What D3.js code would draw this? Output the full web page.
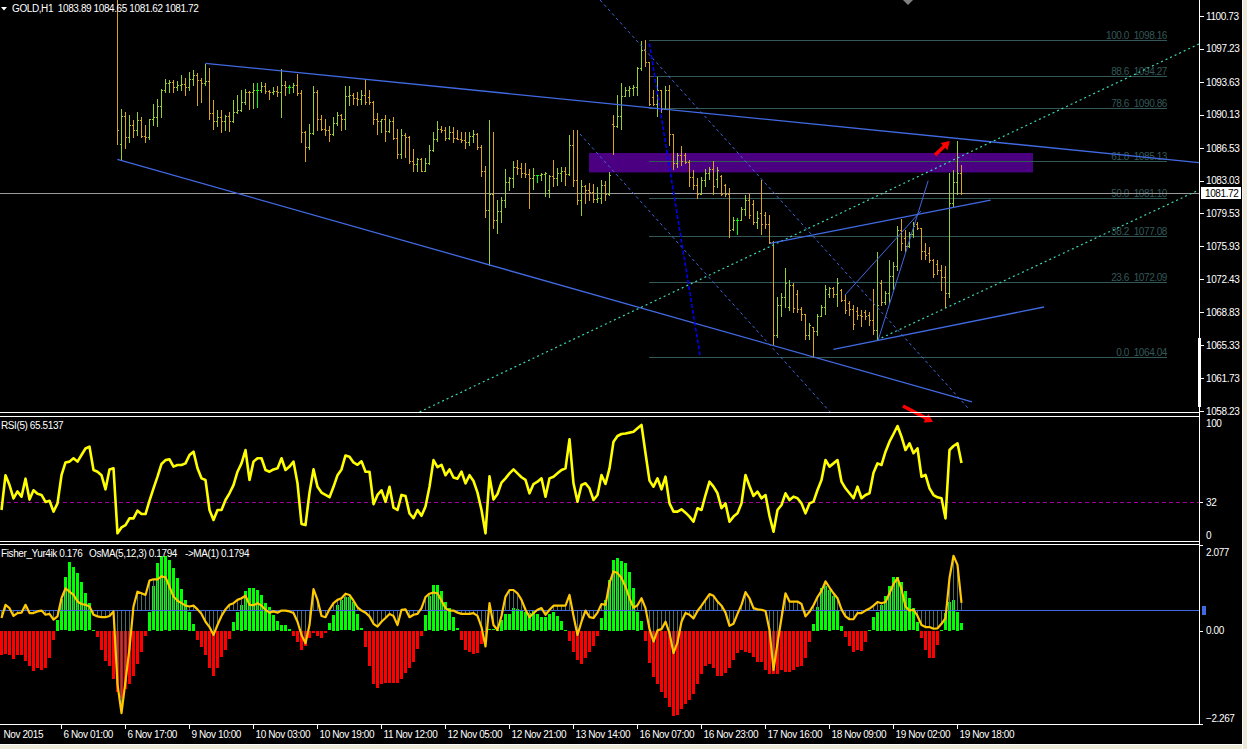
<!DOCTYPE html>
<html><head><meta charset="utf-8">
<script src="https://cdn.jsdelivr.net/npm/d3@7"></script>
<style>html,body{margin:0;padding:0;background:#000;overflow:hidden}svg{display:block}</style>
</head><body>
<svg id="c" width="1247" height="749"></svg>
<script>
// ---------------- DATA ----------------
const symbolName = "GOLD,H1";
const headerOHLC = ["1083.89", "1084.65", "1081.62", "1081.72"];
const lastPrice = 1081.72;
const barCount = 241;           // bars 0..240 on screen (H1)
const firstPriceBar = 29;       // earlier bars are above the visible price range
// [open, high, low, close] for bars 29..240
const priceBars = [
[1104.0,1107.0,1087.0,1088.5],[1087.0,1090.7,1085.3,1090.0],[1090.0,1090.4,1086.5,1087.7],[1087.7,1090.1,1087.2,1089.0],
[1089.0,1089.5,1087.7,1088.5],[1088.5,1090.4,1087.9,1089.5],[1089.5,1089.9,1087.7,1087.8],[1087.8,1089.0,1087.2,1087.7],
[1087.7,1089.7,1087.5,1089.6],[1089.6,1091.3,1089.0,1089.9],[1089.9,1091.8,1088.9,1091.0],[1091.0,1092.9,1089.9,1092.8],
[1092.8,1093.9,1092.5,1093.5],[1093.5,1093.8,1092.5,1093.6],[1093.6,1093.8,1092.6,1093.1],[1093.1,1093.7,1092.8,1093.3],
[1093.3,1094.4,1092.8,1093.4],[1093.4,1094.1,1092.2,1093.1],[1093.1,1094.7,1092.8,1093.9],[1093.9,1094.9,1093.3,1094.4],
[1094.4,1094.6,1091.2,1093.8],[1093.8,1094.1,1091.5,1093.5],[1093.5,1095.6,1093.3,1093.7],[1093.7,1095.1,1089.7,1090.3],
[1090.3,1091.7,1088.6,1089.4],[1089.4,1090.6,1088.9,1089.9],[1089.9,1090.6,1088.2,1089.4],[1089.4,1090.1,1088.5,1090.0],
[1090.0,1090.4,1088.4,1089.4],[1089.4,1091.7,1089.3,1090.4],[1090.4,1092.2,1090.3,1090.6],[1090.6,1092.8,1090.5,1091.5],
[1091.5,1092.9,1091.3,1092.6],[1092.6,1092.7,1090.7,1092.5],[1092.5,1093.5,1090.8,1092.8],[1092.8,1093.5,1090.9,1092.8],
[1092.8,1093.6,1092.5,1093.2],[1093.2,1093.5,1092.4,1092.7],[1092.7,1092.8,1091.8,1092.5],[1092.5,1093.1,1092.3,1092.7],
[1092.7,1093.2,1092.1,1092.6],[1092.6,1095.0,1089.9,1093.3],[1093.3,1093.7,1092.2,1093.1],[1093.1,1093.3,1092.4,1093.1],
[1093.1,1093.5,1092.5,1093.3],[1093.3,1094.5,1092.2,1092.4],[1092.4,1092.8,1087.2,1088.3],[1088.3,1088.4,1085.1,1086.6],
[1086.6,1089.1,1086.4,1088.1],[1088.1,1093.2,1088.0,1092.6],[1092.6,1092.8,1088.5,1089.6],[1089.6,1090.1,1088.5,1088.6],
[1088.6,1089.7,1087.9,1088.5],[1088.5,1088.9,1087.3,1088.0],[1088.0,1089.9,1087.9,1089.2],[1089.2,1090.4,1089.0,1090.1],
[1090.1,1090.2,1088.5,1089.6],[1089.6,1093.2,1088.6,1092.1],[1092.1,1093.2,1091.2,1092.2],[1092.2,1092.4,1091.3,1091.9],
[1091.9,1092.6,1091.2,1091.8],[1091.8,1092.8,1091.3,1092.2],[1092.2,1093.9,1091.3,1091.5],[1092.0,1092.8,1091.3,1091.5],
[1091.5,1091.6,1089.1,1089.6],[1089.6,1090.3,1088.0,1089.4],[1089.4,1089.7,1088.3,1089.6],[1089.6,1090.1,1087.3,1088.4],
[1088.4,1089.6,1088.3,1089.4],[1089.4,1089.9,1087.5,1087.6],[1087.6,1088.6,1085.5,1085.9],[1085.9,1088.6,1085.5,1087.9],
[1087.9,1088.1,1085.6,1087.7],[1087.7,1087.8,1084.9,1085.1],[1085.1,1086.4,1084.1,1084.8],[1084.8,1085.5,1084.0,1085.3],
[1085.3,1085.4,1084.0,1084.1],[1084.1,1085.4,1084.0,1084.9],[1084.9,1086.8,1084.8,1086.3],[1086.3,1088.3,1086.2,1087.5],
[1087.5,1089.4,1087.3,1088.6],[1088.6,1088.9,1088.2,1088.5],[1088.5,1088.8,1087.4,1087.6],[1087.6,1088.9,1087.5,1088.3],
[1088.3,1088.8,1087.2,1087.6],[1087.6,1088.5,1087.5,1087.5],[1087.5,1088.3,1087.2,1087.4],[1087.4,1088.2,1086.5,1087.2],
[1087.2,1088.3,1086.8,1087.8],[1087.8,1088.5,1087.2,1088.0],[1088.0,1088.1,1086.4,1086.6],[1086.6,1086.8,1083.5,1084.1],
[1084.1,1084.6,1079.1,1079.9],[1079.9,1089.5,1073.9,1081.6],[1081.6,1088.2,1077.9,1078.8],[1078.8,1080.9,1077.4,1079.8],
[1079.8,1081.3,1078.6,1080.9],[1080.9,1084.3,1080.2,1082.9],[1082.9,1083.4,1082.0,1083.3],[1083.3,1085.1,1082.3,1084.5],
[1084.5,1085.2,1083.7,1084.4],[1084.4,1084.9,1083.4,1083.8],[1083.8,1084.9,1083.4,1083.7],[1083.7,1084.3,1080.1,1083.3],
[1083.3,1084.4,1082.1,1083.6],[1083.6,1083.6,1082.9,1083.6],[1083.6,1083.8,1083.1,1083.7],[1083.7,1083.9,1081.4,1083.8],
[1082.0,1083.6,1081.3,1083.5],[1083.5,1085.2,1082.4,1083.3],[1083.3,1084.4,1082.5,1083.8],[1083.8,1084.5,1083.0,1084.0],
[1084.0,1084.5,1082.5,1083.7],[1083.7,1087.9,1083.6,1086.8],[1086.8,1088.5,1082.4,1083.1],[1083.1,1088.5,1080.5,1080.9],
[1080.9,1083.1,1079.3,1082.4],[1082.4,1082.5,1080.6,1082.0],[1082.0,1082.8,1080.9,1081.8],[1081.8,1082.7,1080.7,1081.0],
[1081.0,1082.3,1080.7,1081.1],[1081.1,1083.1,1080.6,1082.6],[1082.6,1083.0,1080.9,1081.6],[1081.6,1083.9,1081.5,1083.6],
[1089.1,1090.1,1085.9,1088.9],[1088.9,1092.2,1088.8,1090.0],[1090.0,1093.5,1088.6,1092.1],[1092.1,1093.1,1092.1,1092.8],
[1092.8,1093.2,1092.1,1093.0],[1093.0,1093.3,1092.2,1093.1],[1093.1,1095.2,1092.2,1095.1],[1095.1,1098.0,1094.9,1097.1],
[1097.1,1098.16,1095.3,1095.8],[1095.8,1095.8,1091.2,1091.3],[1092.0,1092.8,1091.2,1091.3],[1091.3,1094.2,1090.0,1092.8],
[1092.8,1092.8,1090.4,1090.7],[1090.7,1093.2,1090.7,1092.8],[1092.8,1093.3,1086.8,1088.0],[1088.0,1088.0,1084.3,1084.9],
[1084.9,1086.0,1084.5,1085.8],[1085.8,1086.7,1084.7,1085.1],[1085.8,1086.0,1084.9,1085.0],[1085.0,1085.2,1082.4,1083.4],
[1083.4,1084.2,1082.1,1082.6],[1082.6,1083.3,1081.2,1081.6],[1081.6,1083.4,1081.6,1083.1],[1083.1,1084.3,1082.4,1083.8],
[1083.8,1084.5,1083.2,1084.3],[1084.3,1085.1,1081.6,1082.4],[1083.2,1084.5,1082.3,1084.2],[1083.5,1083.6,1081.5,1081.6],
[1082.6,1082.7,1081.4,1081.6],[1081.6,1082.2,1077.0,1077.7],[1077.8,1079.1,1077.7,1078.8],[1078.8,1079.0,1077.3,1078.8],
[1078.8,1080.2,1078.8,1080.0],[1080.0,1081.5,1079.3,1080.9],[1080.9,1081.6,1079.0,1079.3],[1080.5,1080.9,1078.4,1078.6],
[1078.6,1079.7,1077.9,1079.0],[1079.5,1083.1,1077.3,1078.4],[1079.3,1079.6,1077.9,1078.4],[1078.4,1079.3,1076.3,1076.4],
[1076.4,1076.5,1065.3,1066.4],[1066.4,1070.5,1066.2,1069.6],[1069.6,1070.9,1068.5,1070.5],[1070.5,1073.6,1069.4,1072.0],
[1069.4,1072.3,1069.1,1071.8],[1071.8,1072.0,1068.9,1069.3],[1070.8,1071.2,1068.9,1069.2],[1069.2,1069.4,1068.0,1068.7],
[1068.7,1068.7,1066.0,1066.4],[1066.4,1067.7,1066.0,1067.5],[1067.3,1067.3,1064.04,1066.8],[1066.8,1068.7,1066.4,1068.4],
[1068.4,1069.6,1068.4,1069.4],[1069.4,1071.8,1068.7,1071.4],[1070.8,1071.6,1070.5,1071.5],[1071.5,1071.6,1070.5,1070.8],
[1070.8,1072.5,1069.5,1072.0],[1071.3,1071.4,1070.1,1070.2],[1070.2,1070.7,1068.8,1069.1],[1069.9,1070.1,1068.6,1069.2],
[1069.2,1069.6,1067.1,1067.6],[1069.0,1069.4,1068.1,1068.6],[1068.6,1069.1,1067.4,1068.4],[1068.9,1069.1,1068.1,1068.4],
[1068.6,1068.9,1067.5,1068.0],[1068.0,1071.4,1066.5,1066.9],[1066.9,1075.3,1065.9,1069.6],[1072.0,1072.3,1069.6,1070.0],
[1070.0,1071.1,1069.7,1070.9],[1070.9,1074.5,1069.8,1072.8],[1072.8,1074.3,1071.4,1073.8],[1073.8,1078.1,1073.4,1077.7],
[1077.7,1078.9,1075.6,1076.3],[1076.8,1077.7,1075.4,1076.0],[1076.0,1077.5,1075.9,1077.3],[1077.3,1078.6,1077.0,1078.1],
[1078.3,1078.6,1077.8,1077.9],[1077.9,1077.9,1074.6,1075.4],[1075.4,1076.3,1074.6,1075.0],[1075.2,1075.9,1074.3,1074.5],
[1074.5,1074.6,1072.7,1073.0],[1074.0,1074.5,1073.0,1073.4],[1073.4,1073.9,1071.3,1072.7],[1072.7,1073.8,1069.4,1070.9],
[1070.9,1083.8,1070.5,1080.6],[1080.6,1084.2,1080.2,1082.9],[1082.9,1087.3,1081.6,1083.89],[1083.89,1084.65,1081.62,1081.72]
];
// RSI(5), bars 0..240
const rsiValues = [
25,55,46.5,35,41,36.5,52,34,42,39,38,32,33,23.6,30.7,
55,66,66.7,69.6,66.7,72.4,78,79.6,59.5,58,55,42.8,60,61,
4.9,10,12,17.8,17.8,24.4,21.5,21.5,33,43.7,53.8,64.7,68,68.7,62.4,63.8,63.8,65.2,72.4,75.3,
61,52.3,50.9,25,16.4,25,25,33.6,39.4,46.5,58,65.2,76.7,50.9,66.7,69.6,69.6,59.5,58,60,60.9,69.6,59.5,62.4,66.7,48,
13,12,40,60,45,40,38,36,45,55,60,72,71,66,64,67,58,58,30,38,42,32,45,27,25,38,37,22,18,25,20,28,45,68,62,64,55,60,53,52,58,48,55,50,40,
25,4.9,54,34,38.8,48.6,52.3,56.6,60,56.6,
53.2,50.9,39.4,47.4,49.4,52.3,36.5,52.3,53.7,56.6,
59.5,60.9,86,48,32.2,46.6,48,43.7,33.6,37.9,
55.2,47.4,60.9,83.9,88.8,90.5,91,91.7,92.5,95.4,
98.3,73.9,50.3,45.1,52.3,42.8,53.7,30.7,23.6,23.6,
25.6,22.7,19.3,14.9,26.5,25,37.9,49.4,45.1,39.4,
26.5,30.7,14.9,19.3,22.1,30.7,55.2,45.7,37.1,40.8,
35.1,37.9,19.8,6.3,25,29.3,39.4,33.6,36.5,35.1,
30.7,22.1,30.7,32.2,42.2,50.9,68.1,62.4,65.2,68.1,
49.4,43.7,39.4,35.1,45.1,35.1,37.9,39.4,57.2,65.2,
63.8,75.3,83.9,90.5,97.4,88.2,76.7,82.5,73.9,78.2,
53.7,55.2,43.7,37.9,35.9,35.1,17.8,76.7,80.2,82.5,
65.5137
];
const rsiLevel = 32;
const rsiTicks = [100, 32, 0];
// Fisher_Yur4ik histogram, bars 0..240
const fisherValues = [
-0.59,-0.55,-0.59,-0.67,-0.59,-0.59,-0.73,-0.86,-0.97,-0.91,
-0.94,-0.91,-0.65,-0.21,0.26,0.76,1.29,1.67,1.55,1.39,
1.17,0.92,0.66,0.02,-0.15,-0.47,-0.73,-0.86,-1.16,-1.48,
-1.62,-1.40,-1.29,-1.10,-0.79,-0.51,-0.11,0.46,1.07,1.65,
1.81,1.80,1.72,1.51,1.27,1.00,0.74,0.46,0.16,-0.21,
-0.40,-0.59,-0.91,-1.08,-0.91,-0.63,-0.47,-0.19,0.22,0.44,
0.62,0.95,1.04,1.04,0.99,0.87,0.68,0.58,0.38,0.23,
0.14,0.14,0.04,-0.13,-0.27,-0.47,-0.37,-0.16,-0.06,-0.11,
-0.16,-0.06,0.18,0.38,0.62,0.74,0.81,0.81,0.70,0.40,
0.06,-0.39,-0.86,-1.28,-1.38,-1.29,-1.26,-1.26,-1.26,-1.26,
-1.16,-1.03,-0.91,-0.75,-0.43,-0.11,0.38,0.83,1.11,1.11,
0.95,0.70,0.54,0.34,0.06,-0.23,-0.47,-0.51,-0.55,-0.53,
-0.31,-0.02,0.03,0.03,0.02,0.26,0.40,0.40,0.54,0.52,
0.50,0.46,0.42,0.50,0.40,0.34,0.34,0.40,0.46,0.36,
0.23,0.02,-0.24,-0.51,-0.71,-0.81,-0.65,-0.51,-0.37,-0.11,
0.30,0.74,1.23,1.72,1.76,1.70,1.63,1.41,1.03,0.46,
0.23,-0.24,-0.77,-1.11,-1.29,-1.48,-1.62,-1.84,-2.07,-2.05,
-1.89,-1.78,-1.67,-1.54,-1.29,-1.04,-0.86,-0.81,-0.91,-1.10,
-1.08,-1.03,-0.91,-0.71,-0.53,-0.47,-0.51,-0.53,-0.63,-0.75,
-0.75,-0.95,-1.04,-1.04,-1.04,-0.95,-1.00,-1.00,-0.95,-0.87,
-0.86,-0.65,-0.27,0.16,0.58,1.03,1.07,0.99,0.83,0.49,
0.11,-0.15,-0.37,-0.51,-0.47,-0.49,-0.27,0.02,0.32,0.46,
0.62,0.84,1.08,1.29,1.31,1.19,0.97,0.78,0.54,0.22,
-0.16,-0.47,-0.65,-0.65,-0.35,0.02,0.42,0.70,0.74,0.46,
0.176
];
// OsMA(5,12,3) (histogram + ->MA(1) line), bars 0..240
const osmaValues = [
-0.19,0.13,0.05,-0.14,-0.07,-0.06,0.13,-0.07,-0.07,-0.03,
-0.01,-0.11,-0.09,-0.23,-0.15,0.29,0.53,0.45,0.37,0.21,
0.15,0.13,0.09,-0.11,-0.15,-0.17,-0.17,-0.14,-0.03,-1.80,
-2.50,-1.72,-0.92,0.09,0.45,0.41,0.37,0.72,0.75,0.75,
0.82,0.80,0.57,0.33,0.23,0.17,0.11,0.09,0.11,0.02,
-0.09,-0.28,-0.41,-0.60,-0.36,-0.14,0.02,0.13,0.17,0.25,
0.29,0.35,0.13,0.12,0.17,0.11,0.01,-0.06,-0.03,-0.06,
-0.01,-0.01,-0.03,-0.07,-0.28,-0.60,-0.80,-0.36,0.51,0.25,
-0.14,-0.17,0.02,0.17,0.25,0.29,0.40,0.37,0.23,0.07,
-0.01,-0.06,-0.15,-0.33,-0.40,-0.28,-0.19,-0.09,-0.14,-0.36,
0.01,0.02,-0.17,-0.11,-0.09,0.05,0.32,0.40,0.43,0.41,
0.23,0.05,-0.01,-0.01,-0.06,-0.09,-0.09,-0.09,-0.07,-0.14,
-0.41,-0.88,0.17,-0.36,-0.48,-0.14,0.33,0.49,0.49,0.41,
0.25,0.01,-0.17,-0.07,0.01,0.05,-0.11,0.01,0.11,0.11,
0.11,0.11,0.37,-0.14,-0.60,-0.28,-0.01,-0.17,-0.19,-0.06,
0.15,0.13,0.66,0.94,0.90,0.78,0.57,0.29,0.06,0.12,
0.29,0.05,-0.46,-0.76,-0.49,-0.46,-0.28,-0.56,-1.04,-0.78,
-0.28,-0.07,-0.11,-0.20,-0.02,0.11,0.25,0.39,0.35,0.21,
0.11,-0.06,-0.38,-0.33,-0.09,0.13,0.44,0.29,0.05,0.02,
0.01,-0.02,-0.48,-1.45,-0.80,-0.19,0.41,0.21,0.21,0.21,
0.15,-0.15,-0.04,0.12,0.32,0.47,0.70,0.55,0.41,0.29,
0.02,-0.15,-0.22,-0.22,-0.07,-0.07,-0.01,0.04,0.11,0.20,
0.17,0.20,0.41,0.64,0.78,0.51,0.09,-0.01,0.01,-0.14,
-0.36,-0.41,-0.41,-0.45,-0.44,-0.33,-0.19,0.78,1.32,1.10,
0.1794
];
const fisherRange = [-2.267, 2.077];
const fisherTicks = [2.077, 0, -2.267];
const osmaRange = [-2.762, 1.582];
const priceTicks = [1100.73,1097.23,1093.63,1090.13,1086.53,1083.03,1079.53,1075.93,1072.43,1068.83,1065.33,1061.73,1058.23];
const timeTickBars = [0,15,31,47,63,79,95,111,127,143,159,175,191,207,223,239];
const timeLabels = ["Nov 2015","6 Nov 01:00","6 Nov 17:00","9 Nov 10:00","10 Nov 03:00","10 Nov 19:00","11 Nov 12:00","12 Nov 05:00","12 Nov 21:00","13 Nov 14:00","16 Nov 07:00","16 Nov 23:00","17 Nov 16:00","18 Nov 09:00","19 Nov 02:00","19 Nov 18:00"];
// Fibonacci retracement
const fibLevels = [0, 23.6, 38.2, 50, 61.8, 78.6, 88.6, 100];
const fibPrices = [1064.04, 1072.09, 1077.08, 1081.10, 1085.13, 1090.86, 1094.27, 1098.16];
const fibSpan = [162, 291.5];
// Drawn objects: [bar, price] anchor pairs
const channelTop = [[51.1, 1095.64], [249.75, 1087.10]];
const channelBottom = [[29.1, 1085.31], [242.75, 1059.20]];
const dotLineA = [[149.75, 1102.45], [241.75, 1058.55]];
const dotLineB = [[144.75, 1088.03], [207.75, 1057.90]];
const steepDashed = [[162.1, 1097.79], [174.75, 1064.25]];
const greenUpper = [[103.5, 1057.90], [299.5, 1097.72]];
const greenLower = [[219, 1065.87], [299.5, 1082.01]];
const flagTop = [[192.25, 1076.27], [247.4, 1080.93]];
const flagBottom = [[208.1, 1064.87], [260.75, 1069.42]];
const wedgeA = [[219.3, 1065.87], [231.8, 1083.01]];
const wedgeB = [[211, 1070.71], [230, 1079.75]];
const zoneRect = [[147, 1085.99], [258, 1083.90]];
const arrowUp = [[233.5, 1085.77], [237.2, 1087.28]];
const arrowDown = [[225.5, 1058.77], [233, 1057.05]];

// ---------------- DRAWING ----------------
const FONT = "'Liberation Sans', Arial, sans-serif";
const svg = d3.select("#c");
const plotR = 1199;
const x = d3.scaleLinear().domain([0, barCount - 1]).range([1, 961]);
const px = i => Math.round(x(i));
const yP = d3.scaleLinear().domain([1058.23, 1100.73]).range([411, 16]);
const yR = d3.scaleLinear().domain([0, 100]).range([539, 423]);
const yF = d3.scaleLinear().domain(fisherRange).range([724, 545]);
const yO = d3.scaleLinear().domain(osmaRange).range([724, 545]);

svg.append("rect").attr("width", 1247).attr("height", 749).attr("fill", "#000");
const defs = svg.append("defs");
function clip(id, y0, h) {
  defs.append("clipPath").attr("id", id).append("rect").attr("x", 0).attr("y", y0).attr("width", plotR).attr("height", h);
}
clip("cp", 0, 412); clip("cr", 416, 125); clip("cf", 545, 179);

// ---- price panel ----
const gP = svg.append("g").attr("clip-path", "url(#cp)");
gP.append("rect")
  .attr("x", x(zoneRect[0][0])).attr("y", yP(zoneRect[0][1]))
  .attr("width", x(zoneRect[1][0]) - x(zoneRect[0][0]))
  .attr("height", yP(zoneRect[1][1]) - yP(zoneRect[0][1]))
  .attr("fill", "#4b0082");
const fibG = gP.append("g");
const fibCol = "#345858";
fibPrices.forEach((p, k) => {
  const yy = Math.round(yP(p)) + 0.5;
  fibG.append("line").attr("x1", x(fibSpan[0])).attr("x2", x(fibSpan[1])).attr("y1", yy).attr("y2", yy)
    .attr("stroke", fibCol).attr("stroke-width", 1);
  fibG.append("text").attr("x", x(fibSpan[1]) - 38).attr("y", yy - 2).attr("text-anchor", "end")
    .attr("fill", fibCol).attr("font-family", FONT).attr("font-size", 10).attr("letter-spacing", "-0.4")
    .text(fibLevels[k].toFixed(1));
  fibG.append("text").attr("x", x(fibSpan[1])).attr("y", yy - 2).attr("text-anchor", "end")
    .attr("fill", fibCol).attr("font-family", FONT).attr("font-size", 10).attr("letter-spacing", "-0.4")
    .text(p.toFixed(2));
});
gP.append("line").attr("x1", 0).attr("x2", plotR).attr("y1", Math.round(yP(lastPrice)) + 0.5).attr("y2", Math.round(yP(lastPrice)) + 0.5)
  .attr("stroke", "#9a9a9a").attr("stroke-width", 1);

const bars = priceBars.map((b, k) => ({ i: firstPriceBar + k, o: b[0], h: b[1], l: b[2], c: b[3] }));
const barColor = d => d.c > d.o ? "#9acd32" : (d.c < d.o ? "#daa520" : "#00ff00");
const gB = gP.append("g").attr("shape-rendering", "crispEdges");
gB.selectAll("line").data(bars).join("line")
  .attr("x1", d => px(d.i) + 0.5).attr("x2", d => px(d.i) + 0.5)
  .attr("y1", d => Math.round(yP(d.h))).attr("y2", d => Math.round(yP(d.l)) + 1)
  .attr("stroke", barColor).attr("stroke-width", 1);
gB.selectAll("rect.o").data(bars).join("rect").attr("class", "o")
  .attr("x", d => px(d.i) - 1).attr("y", d => Math.round(yP(d.o))).attr("width", 1).attr("height", 1).attr("fill", barColor);
gB.selectAll("rect.c").data(bars).join("rect").attr("class", "c")
  .attr("x", d => px(d.i) + 1).attr("y", d => Math.round(yP(d.c))).attr("width", 1).attr("height", 1).attr("fill", barColor);

function seg(g, pts, stroke, dash, width, extendRight) {
  let [a, b] = pts;
  let x1 = x(a[0]), y1 = yP(a[1]), x2 = x(b[0]), y2 = yP(b[1]);
  if (extendRight) { const xe = plotR; y2 = y1 + (y2 - y1) * (xe - x1) / (x2 - x1); x2 = xe; }
  const l = g.append("line").attr("x1", x1).attr("y1", y1).attr("x2", x2).attr("y2", y2)
    .attr("stroke", stroke).attr("stroke-width", width || 1);
  if (dash) l.attr("stroke-dasharray", dash);
  return l;
}
const blue = "#4169e1";
seg(gP, channelTop, blue, null, 1.3, true);
seg(gP, channelBottom, blue, null, 1.3, false);
seg(gP, dotLineA, blue, "3,3", 1, false);
seg(gP, dotLineB, blue, "3,3", 1, false);
seg(gP, steepDashed, "#0000ff", "4,2", 1.5, false);
seg(gP, greenUpper, "#3fd6b4", "2,3", 1.2, false);
seg(gP, greenLower, "#3fd6b4", "2,3", 1.2, false);
seg(gP, flagTop, blue, null, 1.3, false);
seg(gP, flagBottom, blue, null, 1.3, false);
seg(gP, wedgeA, blue, null, 1, false);
seg(gP, wedgeB, blue, null, 1, false);

function arrow(pts) {
  const x1 = x(pts[0][0]), y1 = yP(pts[0][1]), x2 = x(pts[1][0]), y2 = yP(pts[1][1]);
  const ang = Math.atan2(y2 - y1, x2 - x1), len = Math.hypot(x2 - x1, y2 - y1);
  const hl = 8, hw = 5, sw = 1.8;
  const pts2 = [[0, -sw], [len - hl, -sw], [len - hl, -hw], [len, 0], [len - hl, hw], [len - hl, sw], [0, sw]];
  svg.append("polygon").attr("points", pts2.map(p => p.join(",")).join(" "))
    .attr("transform", `translate(${x1},${y1}) rotate(${ang * 180 / Math.PI})`).attr("fill", "#ff0000");
}
arrow(arrowUp);

// ---- RSI panel ----
const gR = svg.append("g").attr("clip-path", "url(#cr)");
gR.append("line").attr("x1", 0).attr("x2", plotR).attr("y1", Math.round(yR(rsiLevel)) + 0.5).attr("y2", Math.round(yR(rsiLevel)) + 0.5)
  .attr("stroke", "#a000a0").attr("stroke-dasharray", "4,3");
gR.append("path").datum(rsiValues)
  .attr("d", d3.line().x((d, i) => px(i) + 0.5).y(d => yR(d)))
  .attr("fill", "none").attr("stroke", "#ffff00").attr("stroke-width", 2.6).attr("stroke-linejoin", "round");

// ---- Fisher / OsMA panel ----
const gF = svg.append("g").attr("clip-path", "url(#cf)");
gF.append("g").attr("shape-rendering", "crispEdges").selectAll("rect").data(fisherValues).join("rect")
  .attr("x", (d, i) => px(i) - 1).attr("width", 3)
  .attr("y", d => Math.round(Math.min(yF(d), yF(0))))
  .attr("height", d => Math.max(1, Math.round(Math.abs(yF(d) - yF(0)))))
  .attr("fill", d => d >= 0 ? "#00ff00" : "#ff0000");
gF.append("g").attr("shape-rendering", "crispEdges").selectAll("line").data(osmaValues).join("line")
  .attr("x1", (d, i) => px(i) + 0.5).attr("x2", (d, i) => px(i) + 0.5)
  .attr("y1", yO(0)).attr("y2", d => yO(d)).attr("stroke", "#4f6868").attr("stroke-width", 1);
gF.append("line").attr("x1", 0).attr("x2", plotR).attr("y1", Math.round(yO(0)) + 0.5).attr("y2", Math.round(yO(0)) + 0.5)
  .attr("stroke", blue).attr("stroke-width", 1);
gF.append("path").datum(osmaValues)
  .attr("d", d3.line().x((d, i) => px(i) + 0.5).y(d => yO(d)))
  .attr("fill", "none").attr("stroke", "#ffc800").attr("stroke-width", 2.2).attr("stroke-linejoin", "round");

arrow(arrowDown);

// ---- frames ----
const frame = svg.append("g").attr("stroke", "#fff").attr("stroke-width", 1).attr("shape-rendering", "crispEdges");
frame.append("line").attr("x1", plotR + 0.5).attr("x2", plotR + 0.5).attr("y1", 0).attr("y2", 725);
[412.5, 416.5, 541.5, 544.5, 724.5].forEach(yy => frame.append("line").attr("x1", 0).attr("x2", plotR + 1).attr("y1", yy).attr("y2", yy));
svg.append("rect").attr("x", 1198).attr("y", 338).attr("width", 3).attr("height", 69).attr("fill", "#fff");

// ---- axes ----
function styleAxis(g) {
  g.select(".domain").remove();
  g.selectAll("line").attr("stroke", "#fff").attr("shape-rendering", "crispEdges");
  g.selectAll("text").attr("fill", "#fff").attr("font-family", FONT).attr("font-size", 10).attr("letter-spacing", "-0.4");
}
const axP = svg.append("g").attr("transform", `translate(${plotR + 1},0)`)
  .call(d3.axisRight(yP).tickValues(priceTicks).tickSize(4).tickPadding(2).tickFormat(d3.format(".2f")));
styleAxis(axP);
const axR = svg.append("g").attr("transform", `translate(${plotR + 1},0)`)
  .call(d3.axisRight(yR).tickValues(rsiTicks).tickSize(3).tickPadding(3).tickFormat(d3.format("d")));
styleAxis(axR);
axR.selectAll(".tick").filter(d => d !== rsiLevel).select("line").remove();
axR.selectAll(".tick").filter(d => d === 0).select("text").attr("dy", "-0.1em");
const axF = svg.append("g").attr("transform", `translate(${plotR + 1},0)`)
  .call(d3.axisRight(yF).tickValues(fisherTicks).tickSize(3).tickPadding(3).tickFormat(d => d === 0 ? "0.00" : d3.format(".3f")(d)));
styleAxis(axF);
axF.selectAll(".tick").filter(d => d === fisherRange[1]).select("text").attr("dy", "1.05em");
axF.selectAll(".tick").filter(d => d === fisherRange[0]).select("text").attr("dy", "-0.3em");
svg.append("rect").attr("x", 1202).attr("y", Math.round(yO(0)) - 4).attr("width", 4).attr("height", 9)
  .attr("fill", blue);
const yl = yP(lastPrice);
svg.append("rect").attr("x", 1201).attr("y", Math.round(yl) - 6).attr("width", 40).attr("height", 12).attr("fill", "#fff");
svg.append("text").attr("x", 1205).attr("y", Math.round(yl) + 4).attr("fill", "#000")
  .attr("font-family", FONT).attr("font-size", 10).attr("letter-spacing", "-0.4").text(lastPrice.toFixed(2));

const axT = svg.append("g").attr("transform", "translate(0,725)")
  .call(d3.axisBottom(x).tickValues(timeTickBars).tickSize(4).tickPadding(2).tickFormat((d, k) => timeLabels[k]));
styleAxis(axT);
axT.selectAll("text").attr("text-anchor", "start").attr("x", 2);
axT.selectAll(".tick").filter(d => d === timeTickBars[0]).select("line").remove();

// ---- titles ----
svg.append("path").attr("d", "M1,7 L7,7 L4,10.5 Z").attr("fill", "#fff");
svg.append("text").attr("x", 12).attr("y", 12).attr("fill", "#fff").attr("font-family", FONT).attr("font-size", 10)
  .attr("letter-spacing", "-0.4").attr("xml:space", "preserve").text(symbolName + "  " + headerOHLC.join(" "));
svg.append("text").attr("x", 1).attr("y", 429).attr("fill", "#fff").attr("font-family", FONT).attr("font-size", 10)
  .attr("letter-spacing", "-0.4").text("RSI(5) " + rsiValues[rsiValues.length - 1].toFixed(4));
[["Fisher_Yur4ik " + fisherValues[fisherValues.length - 1].toFixed(3), 1],
 ["OsMA(5,12,3) " + osmaValues[osmaValues.length - 1].toFixed(4), 89],
 ["->MA(1) " + osmaValues[osmaValues.length - 1].toFixed(4), 185]].forEach(([t, xx]) =>
  svg.append("text").attr("x", xx).attr("y", 557).attr("fill", "#fff").attr("font-family", FONT).attr("font-size", 10)
    .attr("letter-spacing", "-0.4").text(t));

svg.append("path").attr("d", `M${px(226.75) - 5},0 L${px(226.75) + 5},0 L${px(226.75)},5 Z`).attr("fill", "#808080");

svg.append("line").attr("x1", 0).attr("x2", 1242).attr("y1", 744.5).attr("y2", 744.5).attr("stroke", "#fff");
svg.append("rect").attr("x", 0).attr("y", 745).attr("width", 1247).attr("height", 4).attr("fill", "#ece9d8");
svg.append("rect").attr("x", 1242).attr("y", 0).attr("width", 5).attr("height", 749).attr("fill", "#ece9d8");
svg.append("line").attr("x1", 1242.5).attr("x2", 1242.5).attr("y1", 0).attr("y2", 749).attr("stroke", "#fff");
</script>
</body></html>
